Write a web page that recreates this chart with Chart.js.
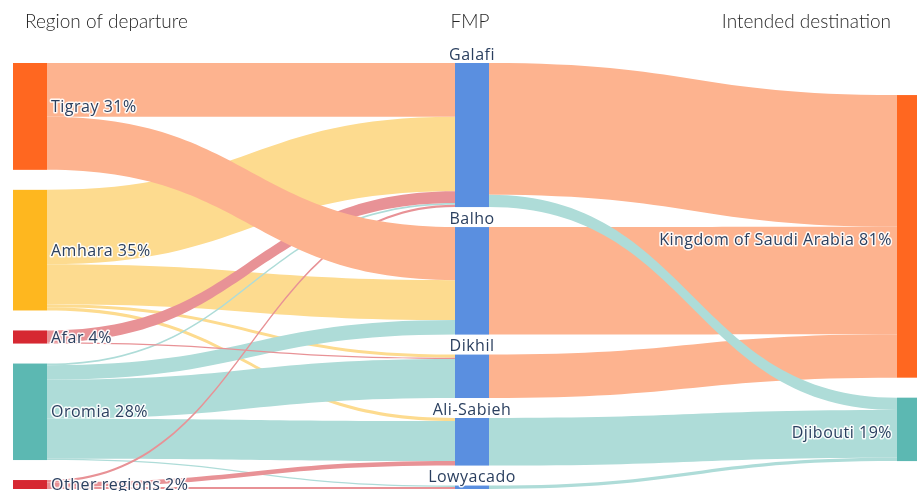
<!DOCTYPE html>
<html>
<head>
<meta charset="utf-8">
<script src="https://cdn.jsdelivr.net/npm/chart.js@4.4.1/dist/chart.umd.min.js"></script>
<style>
  html, body { margin: 0; padding: 0; background: #fff; }
  #wrap { width: 917px; height: 491px; position: relative; overflow: hidden; }
</style>
</head>
<body>
<div id="wrap"><canvas id="sankey" width="917" height="491"></canvas></div>
<script>
// --- data (shares of migrants, %) ---
const columnTitles = ['Region of departure', 'FMP', 'Intended destination'];
const regions = ['Tigray', 'Amhara', 'Afar', 'Oromia', 'Other regions'];
const regionShares = [31, 35, 4, 28, 2];
const fmps = ['Galafi', 'Balho', 'Dikhil', 'Ali-Sabieh', 'Lowyacado'];
const destinations = ['Kingdom of Saudi Arabia', 'Djibouti'];
const destinationShares = [81, 19];

// region -> FMP, in the order of fmps
const tigrayFlows = [15.6, 15.4, 0, 0, 0];
const amharaFlows = [21.6, 11.6, 0.9, 0.9, 0];
const afarFlows = [3.4, 0, 0.4, 0, 0];
const oromiaFlows = [0.5, 4.2, 11.3, 11.6, 0.4];
const otherFlows = [0.7, 0, 0, 1.3, 0.6];
// FMP -> destination, in the order of fmps
const saudiFlows = [38.2, 31.2, 12.6, 0, 0];
const djiboutiFlows = [3.6, 0, 0, 13.8, 1.0];

// --- styles ---
const regionColors = ['#FF6720', '#FEB71F', '#D62832', '#5CB8B2', '#D62832'];
const regionLinkColors = ['#FDB38F', '#FDDB8F', '#E89296', '#AEDCD8', '#E89296'];
const fmpColor = '#5A8FE0';
const destColors = ['#FF6720', '#5CB8B2'];
const destLinkColors = ['#FDB38F', '#AEDCD8'];
const PAD = 5.8;          // gap between nodes (value units)
const RIGHT_OFFSET = 9.3; // plotly pushed the last column down a bit
const NODE_W = 34;
const labelFont = '16px "Open Sans", sans-serif';
const labelColor = '#2a3f5f';

const regionFlows = [tigrayFlows, amharaFlows, afarFlows, oromiaFlows, otherFlows];
const destFlows = [saudiFlows, djiboutiFlows];
const sum = a => a.reduce((s, v) => s + v, 0);

// nodes per column
const columns = [
  regions.map((r, i) => ({ label: r + ' ' + regionShares[i] + '%', value: sum(regionFlows[i]), color: regionColors[i] })),
  fmps.map((f, j) => ({ label: f, value: sum(regionFlows.map(r => r[j])), color: fmpColor })),
  destinations.map((d, k) => ({ label: d + ' ' + destinationShares[k] + '%', value: sum(destFlows[k]), color: destColors[k] }))
];
const colOffsets = [0, 0, RIGHT_OFFSET];
columns.forEach((col, c) => {
  let y = colOffsets[c];
  col.forEach(n => { n.y0 = y; n.y1 = y + n.value; n.outPos = y; n.inPos = y; y = n.y1 + PAD; });
});
const yMax = sum(columns[0].map(n => n.value)) + PAD * (columns[0].length - 1);

// links, stacked top-to-bottom at both ends
const links = [];
regionFlows.forEach((row, i) => row.forEach((v, j) => {
  if (v > 0) links.push({ c: 0, s: i, t: j, value: v, color: regionLinkColors[i] });
}));
destFlows.forEach((row, k) => row.forEach((v, j) => {
  if (v > 0) links.push({ c: 1, s: j, t: k, value: v, color: destLinkColors[k] });
}));
// source side: ordered by target
links.slice().sort((a, b) => a.c - b.c || a.s - b.s || a.t - b.t).forEach(l => {
  const n = columns[l.c][l.s]; l.sy0 = n.outPos; n.outPos += l.value; l.sy1 = n.outPos;
});
// target side: ordered by source
links.slice().sort((a, b) => a.c - b.c || a.t - b.t || a.s - b.s).forEach(l => {
  const n = columns[l.c + 1][l.t]; l.ty0 = n.inPos; n.inPos += l.value; l.ty1 = n.inPos;
});
// paint order seen in the original
const leftOrder = [1, 3, 2, 4, 0];
links.sort((a, b) => a.c - b.c || (a.c === 0 ? leftOrder.indexOf(a.s) - leftOrder.indexOf(b.s) : a.t - b.t));

const labelNudge = { Tigray: -10 };

const sankeyPlugin = {
  id: 'sankey',
  afterDatasetsDraw(chart) {
    const { ctx } = chart;
    const xs = chart.scales.x, ys = chart.scales.y;
    ctx.save();

    // flows
    links.forEach(l => {
      const x0 = xs.getPixelForValue(l.c) + NODE_W;
      const x1 = xs.getPixelForValue(l.c + 1);
      const xm = (x0 + x1) / 2;
      const a0 = ys.getPixelForValue(l.sy0), a1 = ys.getPixelForValue(l.sy1);
      const b0 = ys.getPixelForValue(l.ty0), b1 = ys.getPixelForValue(l.ty1);
      ctx.beginPath();
      ctx.moveTo(x0, a0);
      ctx.bezierCurveTo(xm, a0, xm, b0, x1, b0);
      ctx.lineTo(x1, b1);
      ctx.bezierCurveTo(xm, b1, xm, a1, x0, a1);
      ctx.closePath();
      ctx.fillStyle = l.color;
      ctx.fill();
    });

    // nodes
    columns.forEach((col, c) => col.forEach(n => {
      const x = xs.getPixelForValue(c);
      const top = ys.getPixelForValue(n.y0), bot = ys.getPixelForValue(n.y1);
      ctx.fillStyle = n.color;
      ctx.fillRect(x, top, NODE_W, bot - top);
    }));

    // node labels with a white halo
    ctx.font = labelFont;
    ctx.letterSpacing = '0.5px';
    ctx.textBaseline = 'middle';
    ctx.lineJoin = 'round';
    const drawLabel = (text, x, y, align) => {
      ctx.textAlign = align;
      ctx.strokeStyle = 'rgba(255,255,255,0.9)';
      ctx.lineWidth = 3;
      ctx.strokeText(text, x, y);
      ctx.fillStyle = labelColor;
      ctx.fillText(text, x, y);
    };
    columns.forEach((col, c) => col.forEach((n, i) => {
      const x = xs.getPixelForValue(c);
      const top = ys.getPixelForValue(n.y0), bot = ys.getPixelForValue(n.y1);
      const mid = (top + bot) / 2;
      if (c === 0) drawLabel(n.label, x + NODE_W + 4, mid + 1 + (labelNudge[regions[i]] || 0), 'left');
      else if (c === 1) drawLabel(n.label, x + NODE_W / 2, top - 8, 'center');
      else drawLabel(n.label, x - 5, mid + 4, 'right');
    }));

    // column titles
    ctx.letterSpacing = '0px';
    ctx.font = '300 19px Lato, "Open Sans", sans-serif';
    ctx.fillStyle = '#262626';
    ctx.textBaseline = 'alphabetic';
    ctx.textAlign = 'left';
    ctx.fillText(columnTitles[0], xs.getPixelForValue(0) + 12, 28);
    ctx.textAlign = 'center';
    ctx.fillText(columnTitles[1], xs.getPixelForValue(1) + NODE_W / 2 - 2, 28);
    ctx.textAlign = 'right';
    ctx.fillText(columnTitles[2], xs.getPixelForValue(2) - 6, 28);
    ctx.restore();
  }
};

new Chart(document.getElementById('sankey'), {
  type: 'scatter',
  data: { datasets: [{ data: [] }] },
  options: {
    responsive: false,
    animation: false,
    layout: { padding: { left: 13, right: 20, top: 63, bottom: 2 } },
    scales: {
      x: { type: 'linear', min: 0, max: 2, display: false },
      y: { type: 'linear', min: 0, max: yMax, reverse: true, display: false }
    },
    plugins: { legend: { display: false }, tooltip: { enabled: false } }
  },
  plugins: [sankeyPlugin]
});
</script>
</body>
</html>
